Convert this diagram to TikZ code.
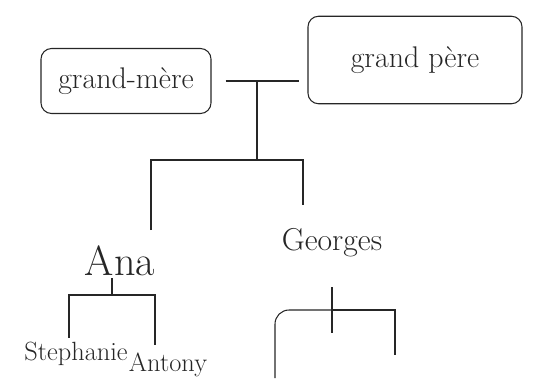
\documentclass[tikz,border=0pt]{standalone}
\begin{document}
\begin{tikzpicture}[line width=0.6pt, color=black!85]
\tikzset{personbox/.style={draw, rounded corners=6pt, inner sep=2pt},
         person/.style={inner sep=1pt}}
\useasboundingbox (0,0) rectangle (10.9,-7.62);
\node[personbox, minimum width=3.4cm, minimum height=1.3cm, font=\fontsize{17}{19}\selectfont] (gm) at (2.52,-1.62) {grand-mère};
\node[personbox, minimum width=4.28cm, minimum height=1.75cm, font=\fontsize{17}{19}\selectfont] (gp) at (8.3,-1.2) {grand père};
\node[person, font=\fontsize{24}{26}\selectfont] (ana) at (2.4,-5.22) {Ana};
\node[person, font=\fontsize{18}{20}\selectfont] (georges) at (6.64,-4.86) {Georges};
\node[person, font=\fontsize{15}{17}\selectfont] (stephanie) at (1.52,-7.08) {Stephanie};
\node[person, font=\fontsize{15}{17}\selectfont] (antony) at (3.36,-7.3) {Antony};
\coordinate (m) at (5.14,-1.62);
\coordinate (j) at (5.14,-3.2);
\coordinate (aup) at (3.02,-4.6);
\coordinate (gup) at (6.06,-4.1);
\coordinate (ab) at (2.24,-5.9);
\coordinate (sl) at (1.38,-6.76);
\coordinate (sr) at (3.1,-6.9);
\coordinate (gtop) at (6.64,-5.74);
\coordinate (gbot) at (6.64,-6.66);
\coordinate (gh) at (6.64,-6.2);
\coordinate (gl) at (5.5,-7.56);
\coordinate (gr) at (7.9,-7.1);
\draw[shorten <=0.28cm, shorten >=0.16cm] (gm.east) -- (gm.east -| gp.west);
\draw (m) -- (j);
\draw (aup) |- (j) -| (gup);
\draw (ana.south -| ab) -- (ab);
\draw (sl) |- (ab) -| (sr);
\draw (gtop) -- (gbot);
\draw[rounded corners=8pt] (gl) |- (gh);
\draw (gh) -| (gr);
\end{tikzpicture}
\end{document}
